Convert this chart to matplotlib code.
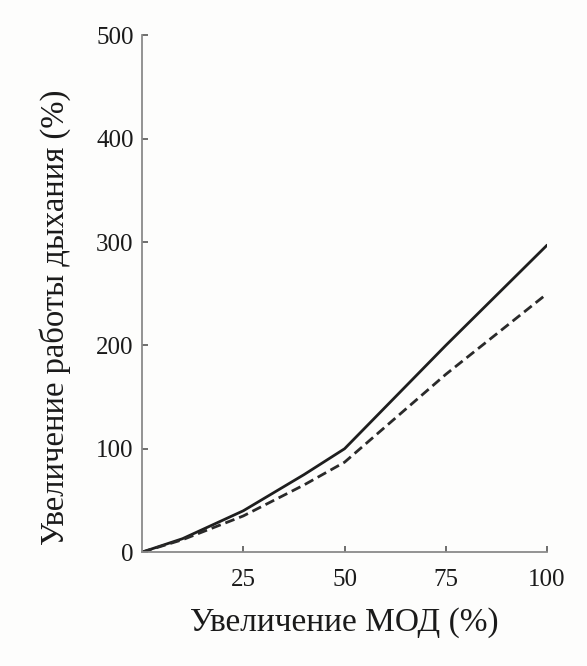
import matplotlib
matplotlib.use('Agg')
from matplotlib import pyplot as plt

# values
mod_solid = [0, 10, 25, 40, 50, 75, 100]
work_solid = [0, 13, 40, 75, 100, 200, 297]
mod_dash = [0, 10, 25, 40, 50, 75, 100]
work_dash = [0, 12, 35, 65, 87, 172, 250]

xticks = [25, 50, 75, 100]
yticks = [0, 100, 200, 300, 400, 500]

plt.rcParams['font.family'] = ['Liberation Serif', 'DejaVu Serif']

bg = '#fdfdfc'
fig = plt.figure(figsize=(5.87, 6.66), dpi=100, facecolor=bg)
ax = fig.add_axes([0.242, 0.171, 0.69, 0.776], facecolor=bg)

ax.plot(mod_solid, work_solid, color='#1e1e1e', lw=2.0, solid_capstyle='round')
ax.plot(mod_dash, work_dash, color='#2a2a2a', lw=2.0, dashes=(3.5, 1.8))

ax.set_xlim(0, 100)
ax.set_ylim(0, 500)
ax.set_xticks(xticks)
ax.set_yticks(yticks)
ax.tick_params(axis='both', direction='in', length=4, width=1.2, color='#555555',
               labelsize=18, labelcolor='#1a1a1a')
ax.tick_params(axis='x', pad=12)
ax.tick_params(axis='y', pad=6)

for side in ['top', 'right']:
    ax.spines[side].set_visible(False)
for side in ['left', 'bottom']:
    ax.spines[side].set_color('#8a8a8a')
    ax.spines[side].set_linewidth(1.3)

ax.set_xlabel('Увеличение МОД (%)', fontsize=24, color='#1a1a1a', labelpad=12)
ax.set_ylabel('Увеличение работы дыхания (%)', fontsize=23.5, color='#1a1a1a',
              va='center')
ax.yaxis.set_label_coords(-0.215, 0.455)

fig.savefig('out.png', dpi=100, facecolor=bg)
